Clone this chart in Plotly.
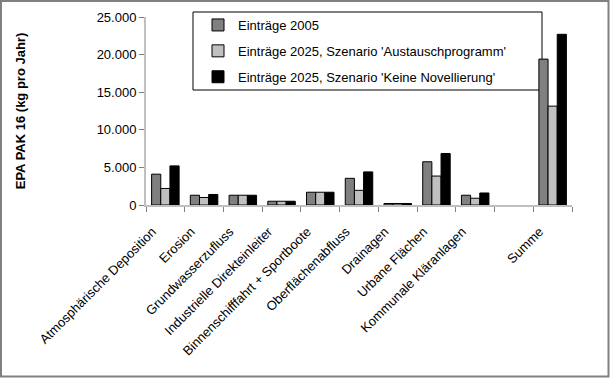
import plotly.graph_objects as go

categories = ["Atmosphärische Deposition", "Erosion", "Grundwasserzufluss",
              "Industrielle Direkteinleiter", "Binnenschifffahrt + Sportboote",
              "Oberflächenabfluss", "Drainagen", "Urbane Flächen",
              "Kommunale Kläranlagen", " ", "Summe"]
eintraege_2005 = [4100, 1300, 1300, 500, 1700, 3550, 200, 5750, 1300, None, 19400]
szenario_austausch = [2200, 1000, 1300, 500, 1700, 1950, 200, 3850, 900, None, 13150]
szenario_keine = [5200, 1400, 1300, 500, 1700, 4400, 200, 6850, 1600, None, 22700]

series_names = ["Einträge 2005",
                "Einträge 2025, Szenario 'Austauschprogramm'",
                "Einträge 2025, Szenario 'Keine Novellierung'"]
series_values = [eintraege_2005, szenario_austausch, szenario_keine]
series_colors = ["#808080", "#C0C0C0", "#000000"]

yticks = [0, 5000, 10000, 15000, 20000, 25000]

fig = go.Figure()
for i, (name, vals, col) in enumerate(zip(series_names, series_values, series_colors)):
    fig.add_trace(go.Bar(
        x=categories, y=vals, name=name, legendgroup=f"g{i}",
        marker=dict(color=col, line=dict(color="#000000", width=1)),
    ))

W, H = 610, 378
L, R, T, B = 146, 38, 17, 173
pw, ph = W - L - R, H - T - B

def px(x):
    return (x - L) / pw

def py(y):
    return (H - B - y) / ph

fig.update_layout(
    width=W, height=H,
    margin=dict(l=L, r=R, t=T, b=B, autoexpand=False),
    paper_bgcolor="white", plot_bgcolor="white",
    separators=",.",
    barmode="group", bargap=0.29, bargroupgap=0,
    font=dict(family="Liberation Sans, Arial, sans-serif", size=13, color="#000000"),
    showlegend=True,
    legend=dict(
        x=px(198), y=py(10), xanchor="left", yanchor="top",
        bgcolor="rgba(0,0,0,0)", borderwidth=0, itemwidth=30,
        font=dict(size=13), tracegroupgap=6,
    ),
    xaxis=dict(
        type="category", categoryorder="array", categoryarray=categories,
        tickangle=-45, tickson="boundaries", ticks="outside", ticklen=5,
        tickcolor="#808080", showline=True, linecolor="#C0C0C0", linewidth=2,
        showgrid=False, zeroline=False, tickfont=dict(size=13), automargin=False,
        ticklabelstandoff=12, ticklabelshift=-13,
    ),
    yaxis=dict(
        range=[0, 25000], tickvals=yticks, tickformat=",d",
        ticks="outside", ticklen=5, tickcolor="#808080",
        showline=True, linecolor="#C0C0C0", linewidth=2,
        showgrid=False, zeroline=False, tickfont=dict(size=13), automargin=False,
        title=dict(text="<b>EPA PAK 16 (kg pro Jahr)</b>", font=dict(size=13), standoff=68),
    ),
    shapes=[
        dict(type="rect", xref="paper", yref="paper",
             x0=px(193), x1=px(542), y0=py(90), y1=py(12),
             line=dict(color="#000000", width=1), fillcolor="rgba(0,0,0,0)", layer="below"),
        dict(type="rect", xref="paper", yref="paper",
             x0=px(1), x1=px(608.5), y0=py(376.5), y1=py(1),
             line=dict(color="#808080", width=2), fillcolor="rgba(0,0,0,0)"),
    ],
)

fig.write_html("out.html", config={"displayModeBar": False},
               post_script="document.body.style.margin='0';")
